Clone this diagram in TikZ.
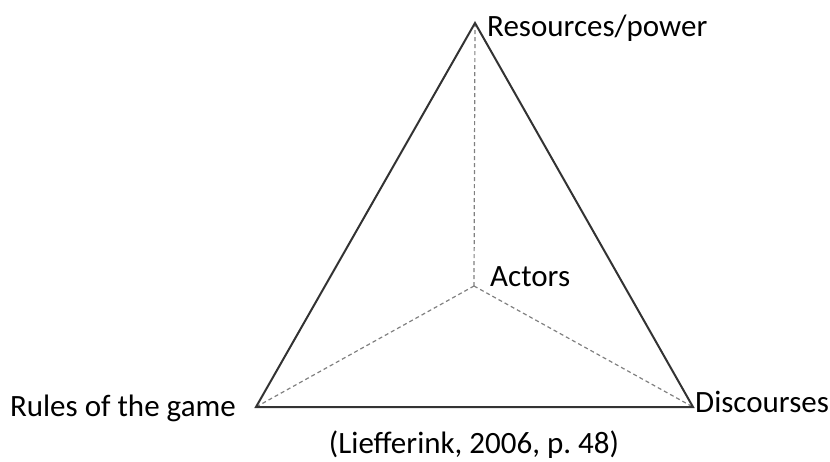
\documentclass[tikz,border=0pt]{standalone}
\usepackage{fontspec}
\setmainfont{Carlito}
\begin{document}
\begin{tikzpicture}[x=1pt,y=-1pt,font=\fontsize{31}{37}\selectfont]
  \useasboundingbox (0,0) rectangle (830,461);
  \coordinate (res) at (475,23);
  \coordinate (rul) at (256,407);
  \coordinate (dis) at (693,407);
  \coordinate (act) at (474,286);
  \begin{scope}[gray,line width=1.2pt,dash pattern=on 4pt off 3pt]
    \draw (act)--(res);
    \draw (act)--(rul);
    \draw (act)--(dis);
  \end{scope}
  \draw[line width=2pt,black!80] (res)--(dis)--(rul)--cycle;
  \node[anchor=base west,inner sep=0pt] (resl) at ([shift={(12,13)}]res) {Resources/power};
  \node[anchor=base west,inner sep=0pt] (disl) at ([shift={(2,5)}]dis) {Discourses};
  \node[anchor=base east,inner sep=0pt] (rull) at ([shift={(-20,9)}]rul) {Rules of the game};
  \node[anchor=base west,inner sep=0pt] (actl) at ([xshift=16pt]act) {Actors};
  \node[inner sep=0pt] (src) at (474,445) {(Liefferink, 2006, p.~48)};
\end{tikzpicture}
\end{document}
